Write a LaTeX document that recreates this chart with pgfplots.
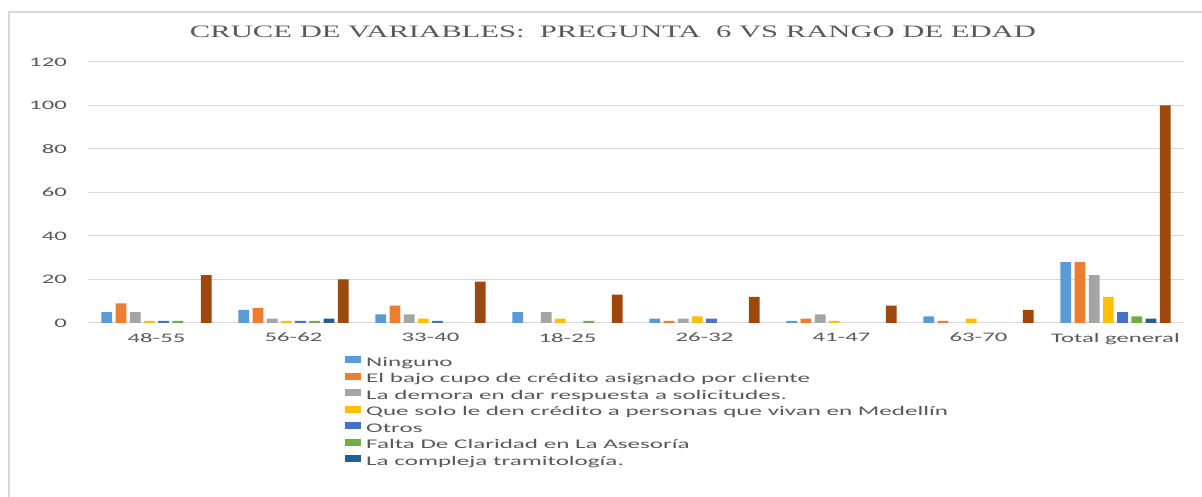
\documentclass[border=0pt]{standalone}
\usepackage{pgfplots}
\pgfplotsset{compat=1.18}
\usepackage{fontspec}
\setmainfont{Carlito}
\newfontfamily\calib[FakeStretch=1.9]{Carlito}
\newfontfamily\titlefont[FakeStretch=1.75]{Liberation Serif}
\definecolor{c1}{HTML}{5B9BD5}
\definecolor{c2}{HTML}{ED7D31}
\definecolor{c3}{HTML}{A5A5A5}
\definecolor{c4}{HTML}{FFC000}
\definecolor{c5}{HTML}{4472C4}
\definecolor{c6}{HTML}{70AD47}
\definecolor{c7}{HTML}{255E91}
\definecolor{c8}{HTML}{9E480E}
\definecolor{txt}{HTML}{595959}
\definecolor{grd}{HTML}{D9D9D9}
\begin{document}
\begin{tikzpicture}[x=1pt,y=1pt]
\useasboundingbox (0,0) rectangle (1202,497);
\fill[white] (0,0) rectangle (1202,497);
\draw[grd, line width=1.5pt] (9,-5) -- (9,485) -- (1210,485);
\node[text=txt, font=\titlefont\fontsize{17.5}{20}\selectfont] at (613,465) {CRUCE DE VARIABLES:\ \ PREGUNTA\ \ 6 VS RANGO DE EDAD};
\begin{axis}[
  at={(88pt,174pt)}, anchor=south west,
  width=1096pt, height=261pt, scale only axis,
  ymin=0, ymax=120, ytick={0,20,...,120},
  xmin=-0.5, xmax=7.5, xtick={0,...,7},
  xticklabels={48-55,56-62,33-40,18-25,26-32,41-47,63-70,Total general},
  ybar=3.5pt, bar width=10.7pt,
  axis line style={draw=none},
  major tick length=0pt,
  ymajorgrids, grid style={grd, line width=1pt},
  /pgf/number format/assume math mode=true,
  tick label style={font=\calib\fontsize{13}{15}\selectfont, text=txt},
  yticklabel style={anchor=east, inner sep=0pt, xshift=-21pt},
  xticklabel style={anchor=north, inner sep=0pt, yshift=-10pt},
  legend style={at={(axis description cs:0.2345,-0.126)}, anchor=north west,
    draw=none, fill=none, inner sep=0pt, row sep=3pt, column sep=5pt,
    font=\calib\fontsize{13.2}{15}\selectfont, text=txt,
    nodes={inner sep=0pt, text height=9.5pt, text depth=3.5pt}},
  legend cell align=left,
  legend image code/.code={\fill[#1] (0pt,0pt) rectangle (16pt,7pt);},
]
\addplot[fill=c1, draw=none] coordinates {(0,5) (1,6) (2,4) (3,5) (4,2) (5,1) (6,3) (7,28)};
\addlegendentry{Ninguno}
\addplot[fill=c2, draw=none] coordinates {(0,9) (1,7) (2,8) (4,1) (5,2) (6,1) (7,28)};
\addlegendentry{El bajo cupo de crédito asignado por cliente}
\addplot[fill=c3, draw=none] coordinates {(0,5) (1,2) (2,4) (3,5) (4,2) (5,4) (7,22)};
\addlegendentry{La demora en dar respuesta a solicitudes.}
\addplot[fill=c4, draw=none] coordinates {(0,1) (1,1) (2,2) (3,2) (4,3) (5,1) (6,2) (7,12)};
\addlegendentry{Que solo le den crédito a personas que vivan en Medellín}
\addplot[fill=c5, draw=none] coordinates {(0,1) (1,1) (2,1) (4,2) (7,5)};
\addlegendentry{Otros}
\addplot[fill=c6, draw=none] coordinates {(0,1) (1,1) (3,1) (7,3)};
\addlegendentry{Falta De Claridad en La Asesoría}
\addplot[fill=c7, draw=none] coordinates {(1,2) (7,2)};
\addlegendentry{La compleja tramitología.}
\addplot[fill=c8, draw=none] coordinates {(0,22) (1,20) (2,19) (3,13) (4,12) (5,8) (6,6) (7,100)};
\end{axis}
\end{tikzpicture}
\end{document}
